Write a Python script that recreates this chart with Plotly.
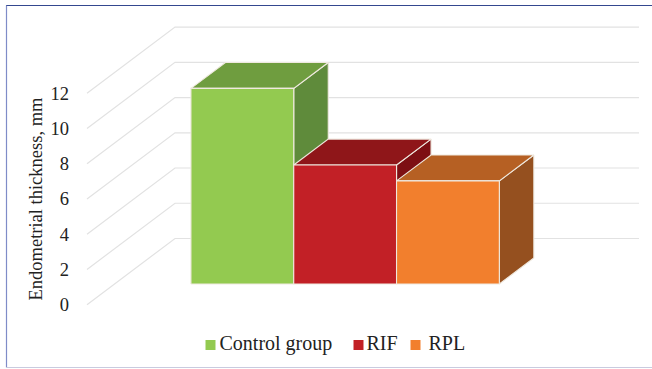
import plotly.graph_objects as go

# Mean endometrial thickness per group
groups = ["Control group", "RIF", "RPL"]
thickness = [11.1, 6.75, 5.85]
tick_values = [0, 2, 4, 6, 8, 10, 12]
front_colors = ["#93CA50", "#C22026", "#F27F2D"]
top_colors = ["#6F9D3F", "#8F1619", "#B66023"]
side_colors = ["#5F8B3B", "#7D0F13", "#95501F"]

WIDTH, HEIGHT = 652, 369
LEFT = 70
X_UNIT = 102.8   # pixels per category
Y_UNIT = 17.62   # pixels per mm
X_ZERO = 214.8   # pixel of the first category centre at depth 0
Y_ZERO = 304.7   # pixel of the value 0 at the front of the floor
SERIF = "Liberation Serif, serif"
INK = "#222222"
EDGE = "#EFE9DF"

# Oblique projection: depth 0 is the front of the floor, depth 1 its back wall
DEPTH_DX = 88 / X_UNIT
DEPTH_DY = 66.2 / Y_UNIT
BAR_FRONT, BAR_BACK = 0.313, 0.705
GRID_START = (87 - X_ZERO) / X_UNIT
GRID_END = (639 - X_ZERO) / X_UNIT


def project(x, value, depth):
    return x + depth * DEPTH_DX, value + depth * DEPTH_DY


def polygon(corners, fill, name):
    xs, ys = zip(*[project(*c) for c in corners + corners[:1]])
    return go.Scatter(
        x=xs, y=ys, mode="lines", fill="toself", fillcolor=fill,
        line=dict(color=EDGE, width=1.1), hoverinfo="skip",
        showlegend=False, name=name,
    )


fig = go.Figure()

# Gridlines run from the front edge up the floor, then along the back wall
for v in tick_values:
    gx, gy = zip(*[project(GRID_START, v, 0), project(GRID_START, v, 1)])
    fig.add_trace(go.Scatter(
        x=list(gx) + [GRID_END], y=list(gy) + [gy[1]], mode="lines",
        line=dict(color="#E2E2E2", width=1.2), hoverinfo="skip", showlegend=False,
    ))

# Each bar is three faces; left to right so nearer faces overlap correctly
for i, (name, value) in enumerate(zip(groups, thickness)):
    l, r = i - 0.5, i + 0.5
    fig.add_trace(polygon(
        [(r, 0, BAR_FRONT), (r, 0, BAR_BACK), (r, value, BAR_BACK), (r, value, BAR_FRONT)],
        side_colors[i], name + " side"))
    fig.add_trace(polygon(
        [(l, value, BAR_FRONT), (l, value, BAR_BACK), (r, value, BAR_BACK), (r, value, BAR_FRONT)],
        top_colors[i], name + " top"))
    fig.add_trace(polygon(
        [(l, 0, BAR_FRONT), (r, 0, BAR_FRONT), (r, value, BAR_FRONT), (l, value, BAR_FRONT)],
        front_colors[i], name))

# Legend row below the bars: colour swatches and their labels
swatch_px = [210.5, 358.5, 415.5]
label_px = [219.5, 366.5, 428.5]
legend_y = (Y_ZERO - 345) / Y_UNIT
fig.add_trace(go.Scatter(
    x=[(p - X_ZERO) / X_UNIT for p in swatch_px], y=[legend_y] * 3, mode="markers",
    marker=dict(symbol="square", size=10, color=front_colors),
    hoverinfo="skip", showlegend=False,
))
fig.add_trace(go.Scatter(
    x=[(p - X_ZERO) / X_UNIT for p in label_px], y=[legend_y] * 3,
    mode="text", text=groups, textposition="middle right",
    textfont=dict(family=SERIF, size=20, color=INK),
    hoverinfo="skip", showlegend=False,
))

fig.update_layout(
    width=WIDTH, height=HEIGHT, autosize=False,
    margin=dict(l=LEFT, r=0, t=0, b=0),
    paper_bgcolor="white", plot_bgcolor="white", showlegend=False,
    xaxis=dict(
        range=[(LEFT - X_ZERO) / X_UNIT, (WIDTH - X_ZERO) / X_UNIT],
        visible=False, fixedrange=True,
    ),
    yaxis=dict(
        range=[(Y_ZERO - HEIGHT) / Y_UNIT, Y_ZERO / Y_UNIT],
        tickmode="array", tickvals=tick_values, ticks="",
        showgrid=False, zeroline=False, showline=False, fixedrange=True,
        tickfont=dict(family=SERIF, size=18.5, color=INK),
    ),
    annotations=[dict(
        text="Endometrial thickness, mm", xref="paper", yref="paper",
        x=(35 - LEFT) / (WIDTH - LEFT), y=1 - 198.5 / HEIGHT,
        xanchor="center", yanchor="middle", textangle=-90, showarrow=False,
        font=dict(family=SERIF, size=18.5, color=INK),
    )],
    shapes=[
        dict(type="line", xref="paper", yref="paper", x0=(6 - LEFT) / (WIDTH - LEFT), x1=1,
             y0=1 - 5.5 / HEIGHT, y1=1 - 5.5 / HEIGHT, line=dict(color="#34488F", width=1.2)),
        dict(type="line", xref="paper", yref="paper",
             x0=(6.5 - LEFT) / (WIDTH - LEFT), x1=(6.5 - LEFT) / (WIDTH - LEFT),
             y0=1 - 5.5 / HEIGHT, y1=1 - 367.5 / HEIGHT, line=dict(color="#7F8CC8", width=1.2)),
        dict(type="line", xref="paper", yref="paper", x0=(6 - LEFT) / (WIDTH - LEFT), x1=1,
             y0=1 - 367.5 / HEIGHT, y1=1 - 367.5 / HEIGHT, line=dict(color="#C9CBDF", width=1.2)),
    ],
)

fig.write_html("out.html", config=dict(displayModeBar=False))
